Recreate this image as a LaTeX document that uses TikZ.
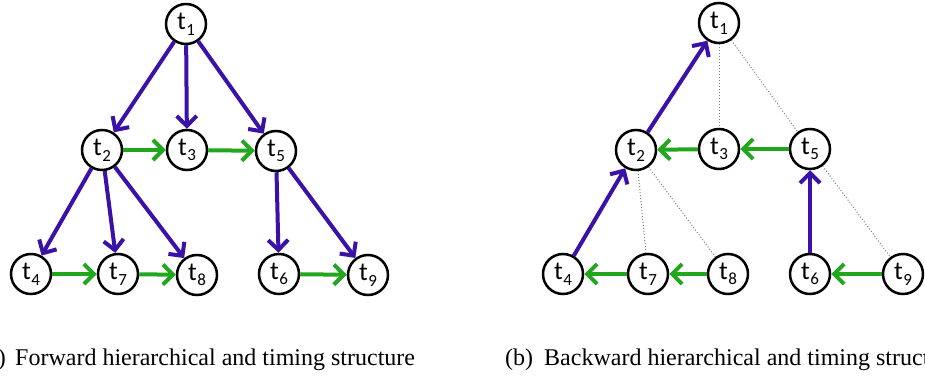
\documentclass[tikz,border=0pt]{standalone}
\usepackage{fontspec}
\setmainfont{Liberation Serif}
\newfontfamily\lblfont{Carlito}
\usetikzlibrary{arrows.meta}
\definecolor{hblue}{HTML}{3A12A8}
\definecolor{tgreen}{HTML}{22A61E}
\newcommand{\tl}[1]{\lblfont t\hspace{0.5pt}\raisebox{-0.45ex}{\fontsize{17}{17}\selectfont #1}}
\tikzset{
  task/.style={circle,draw=black,line width=2.5pt,fill=white,minimum size=40pt,inner sep=0pt,font=\fontsize{26}{26}\selectfont},
  harr/.style={draw=hblue,line width=4pt,-{Straight Barb[length=10pt,width=20pt]}},
  garr/.style={draw=tgreen,line width=4pt,-{Straight Barb[length=10pt,width=20pt]}},
  dotl/.style={draw=black!50,line width=1pt,dash pattern=on 1pt off 2pt},
  captext/.style={font=\fontsize{24}{24}\selectfont,inner sep=0pt}
}
\begin{document}
\begin{tikzpicture}[x=1pt,y=-1pt]
\useasboundingbox (0,0) rectangle (925,377);
\clip (0,0) rectangle (925,377);
% left panel
\node[task] (a1) at (186,24) {\tl{1}};
\node[task] (a2) at (102,150) {\tl{2}};
\node[task] (a3) at (187,150) {\tl{3}};
\node[task] (a5) at (276,151) {\tl{5}};
\node[task] (a4) at (31,274) {\tl{4}};
\node[task] (a7) at (118,274) {\tl{7}};
\node[task] (a8) at (197,275) {\tl{8}};
\node[task] (a6) at (279,274) {\tl{6}};
\node[task] (a9) at (368,275) {\tl{9}};
\draw[harr] (a1) -- (a2);
\draw[harr] (a1) -- (a3);
\draw[harr] (a1) -- (a5);
\draw[harr] (a2) -- (a4);
\draw[harr] (a2) -- (a7);
\draw[harr] (a2) -- (a8);
\draw[harr] (a5) -- (a6);
\draw[harr] (a5) -- (a9);
\draw[garr] (a2) -- (a3);
\draw[garr] (a3) -- (a5);
\draw[garr] (a4) -- (a7);
\draw[garr] (a7) -- (a8);
\draw[garr] (a6) -- (a9);
% right panel
\node[task] (b1) at (719,23) {\tl{1}};
\node[task] (b2) at (636,150) {\tl{2}};
\node[task] (b3) at (719,149) {\tl{3}};
\node[task] (b5) at (810,149) {\tl{5}};
\node[task] (b4) at (563,274) {\tl{4}};
\node[task] (b7) at (648,274) {\tl{7}};
\node[task] (b8) at (728,274) {\tl{8}};
\node[task] (b6) at (810,274) {\tl{6}};
\node[task] (b9) at (903,274) {\tl{9}};
\draw[dotl] (b1) -- (b3);
\draw[dotl] (b1) -- (b5);
\draw[dotl] (b2) -- (b7);
\draw[dotl] (b2) -- (b8);
\draw[dotl] (b5) -- (b9);
\draw[harr] (b2) -- (b1);
\draw[harr] (b4) -- (b2);
\draw[harr] (b6) -- (b5);
\draw[garr] (b3) -- (b2);
\draw[garr] (b5) -- (b3);
\draw[garr] (b7) -- (b4);
\draw[garr] (b8) -- (b7);
\draw[garr] (b9) -- (b6);
% captions
\node[captext,anchor=base east] (ca) at (6,365) {(a)};
\node[captext,anchor=base west] (cat) at (15,365) {Forward hierarchical and timing structure};
\node[captext,anchor=base west] (cb) at (505,365) {(b)};
\node[captext,anchor=base west] (cbt) at (544,365) {Backward hierarchical and timing structure};
\end{tikzpicture}
\end{document}
